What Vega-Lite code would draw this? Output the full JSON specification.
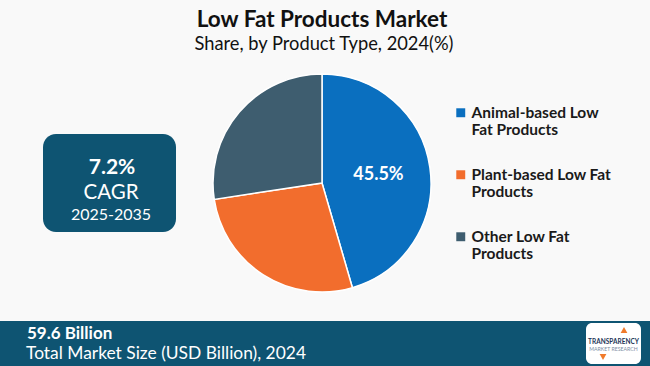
{
  "$schema": "https://vega.github.io/schema/vega-lite/v6.json",
  "width": 650,
  "height": 366,
  "autosize": {"type": "none"},
  "padding": 0,
  "background": "#f9f9f9",
  "config": {"view": {"stroke": null}, "font": "Lato"},
  "datasets": {
    "share": [
      {"type": "Animal-based Low Fat Products", "share": 45.5, "rank": 1, "label": "45.5%"},
      {"type": "Plant-based Low Fat Products", "share": 27.1, "rank": 2, "label": "27.1%"},
      {"type": "Other Low Fat Products", "share": 27.4, "rank": 3, "label": "27.4%"}
    ],
    "one": [{"k": 1}]
  },
  "layer": [
    {
      "data": {"name": "one"},
      "mark": {"type": "rect", "fill": "#0e5472"},
      "encoding": {
        "x": {"datum": 0, "type": "quantitative", "scale": {"domain": [0, 650], "nice": false, "zero": false}, "axis": null},
        "x2": {"datum": 650},
        "y": {"datum": 321, "type": "quantitative", "scale": {"domain": [366, 0], "nice": false, "zero": false}, "axis": null},
        "y2": {"datum": 366}
      }
    },
    {
      "data": {"name": "one"},
      "mark": {"type": "rect", "fill": "#0e5472", "cornerRadius": 13},
      "encoding": {
        "x": {"datum": 43, "type": "quantitative"},
        "x2": {"datum": 176},
        "y": {"datum": 134, "type": "quantitative"},
        "y2": {"datum": 232}
      }
    },
    {
      "data": {"name": "one"},
      "mark": {"type": "text", "text": "7.2%", "fill": "white", "fontSize": 21, "fontWeight": "bold", "align": "center", "baseline": "middle"},
      "encoding": {"x": {"datum": 112, "type": "quantitative"}, "y": {"datum": 168, "type": "quantitative"}}
    },
    {
      "data": {"name": "one"},
      "mark": {"type": "text", "text": "CAGR", "fill": "white", "fontSize": 20.5, "align": "center", "baseline": "middle"},
      "encoding": {"x": {"datum": 111, "type": "quantitative"}, "y": {"datum": 193, "type": "quantitative"}}
    },
    {
      "data": {"name": "one"},
      "mark": {"type": "text", "text": "2025-2035", "fill": "white", "fontSize": 16, "align": "center", "baseline": "middle"},
      "encoding": {"x": {"datum": 111, "type": "quantitative"}, "y": {"datum": 215, "type": "quantitative"}}
    },
    {
      "data": {"name": "one"},
      "mark": {"type": "text", "text": "Low Fat Products Market", "fill": "#111111", "fontSize": 22.5, "fontWeight": "bold", "align": "center", "baseline": "middle"},
      "encoding": {"x": {"datum": 322, "type": "quantitative"}, "y": {"datum": 20, "type": "quantitative"}}
    },
    {
      "data": {"name": "one"},
      "mark": {"type": "text", "text": "Share, by Product Type, 2024(%)", "fill": "#111111", "fontSize": 18.3, "align": "center", "baseline": "middle"},
      "encoding": {"x": {"datum": 324, "type": "quantitative"}, "y": {"datum": 45, "type": "quantitative"}}
    },
    {
      "data": {"name": "one"},
      "mark": {"type": "text", "text": "59.6 Billion", "fill": "white", "fontSize": 17, "fontWeight": "bold", "align": "left", "baseline": "middle"},
      "encoding": {"x": {"datum": 27, "type": "quantitative"}, "y": {"datum": 334, "type": "quantitative"}}
    },
    {
      "data": {"name": "one"},
      "mark": {"type": "text", "text": "Total Market Size (USD Billion), 2024", "fill": "white", "fontSize": 17.4, "align": "left", "baseline": "middle"},
      "encoding": {"x": {"datum": 26, "type": "quantitative"}, "y": {"datum": 354, "type": "quantitative"}}
    },
    {
      "data": {"name": "one"},
      "mark": {"type": "rect", "fill": "white", "cornerRadius": 6},
      "encoding": {
        "x": {"datum": 586, "type": "quantitative"},
        "x2": {"datum": 641},
        "y": {"datum": 323, "type": "quantitative"},
        "y2": {"datum": 364}
      }
    },
    {
      "data": {"name": "one"},
      "mark": {"type": "point", "shape": "triangle-up", "filled": true, "fill": "#f07a2b", "size": 45, "opacity": 1},
      "encoding": {"x": {"datum": 624, "type": "quantitative"}, "y": {"datum": 330, "type": "quantitative"}}
    },
    {
      "data": {"name": "one"},
      "mark": {"type": "point", "shape": "triangle-down", "filled": true, "fill": "#f07a2b", "size": 45, "opacity": 1},
      "encoding": {"x": {"datum": 603, "type": "quantitative"}, "y": {"datum": 357, "type": "quantitative"}}
    },
    {
      "data": {"name": "one"},
      "mark": {"type": "text", "text": "TRANSPARENCY", "fill": "#1d3557", "fontSize": 6.5, "fontWeight": "bold", "align": "center", "baseline": "middle"},
      "encoding": {"x": {"datum": 613.5, "type": "quantitative"}, "y": {"datum": 342, "type": "quantitative"}}
    },
    {
      "data": {"name": "one"},
      "mark": {"type": "text", "text": "MARKET RESEARCH", "fill": "#7d8ea3", "fontSize": 5.2, "align": "center", "baseline": "middle"},
      "encoding": {"x": {"datum": 613.5, "type": "quantitative"}, "y": {"datum": 348.5, "type": "quantitative"}}
    },
    {
      "data": {"name": "share"},
      "layer": [
        {
          "mark": {"type": "arc", "outerRadius": 109, "stroke": "white", "strokeWidth": 1.5},
          "encoding": {
            "x": {"datum": 322, "type": "quantitative"},
            "y": {"datum": 183, "type": "quantitative"},
            "theta": {"field": "share", "type": "quantitative", "stack": true},
            "order": {"field": "rank", "type": "quantitative"},
            "color": {
              "field": "type",
              "type": "nominal",
              "scale": {
                "domain": ["Animal-based Low Fat Products", "Plant-based Low Fat Products", "Other Low Fat Products"],
                "range": ["#0a6fbf", "#f26d2d", "#3e5d6f"]
              },
              "legend": {
                "orient": "none",
                "legendX": 453,
                "legendY": 105,
                "title": null,
                "padding": 0,
                "symbolType": "square",
                "symbolSize": 80,
                "symbolOpacity": 1,
                "symbolStrokeWidth": 0,
                "labelFont": "Lato",
                "labelFontSize": 15.5,
                "labelFontWeight": "bold",
                "labelColor": "#1a1a1a",
                "labelOffset": 3,
                "labelLimit": 300,
                "rowPadding": 28,
                "labelExpr": "datum.label == 'Animal-based Low Fat Products' ? ['Animal-based Low', 'Fat Products'] : datum.label == 'Plant-based Low Fat Products' ? ['Plant-based Low Fat', 'Products'] : ['Other Low Fat', 'Products']"
              }
            }
          }
        },
        {
          "mark": {"type": "text", "radius": 57, "fill": "white", "fontSize": 18, "fontWeight": "bold", "align": "center", "baseline": "middle"},
          "encoding": {
            "x": {"datum": 322, "type": "quantitative"},
            "y": {"datum": 183, "type": "quantitative"},
            "theta": {"field": "share", "type": "quantitative", "stack": true},
            "order": {"field": "rank", "type": "quantitative"},
            "text": {"condition": {"test": "datum.rank == 1", "field": "label"}, "value": ""}
          }
        }
      ]
    }
  ]
}
